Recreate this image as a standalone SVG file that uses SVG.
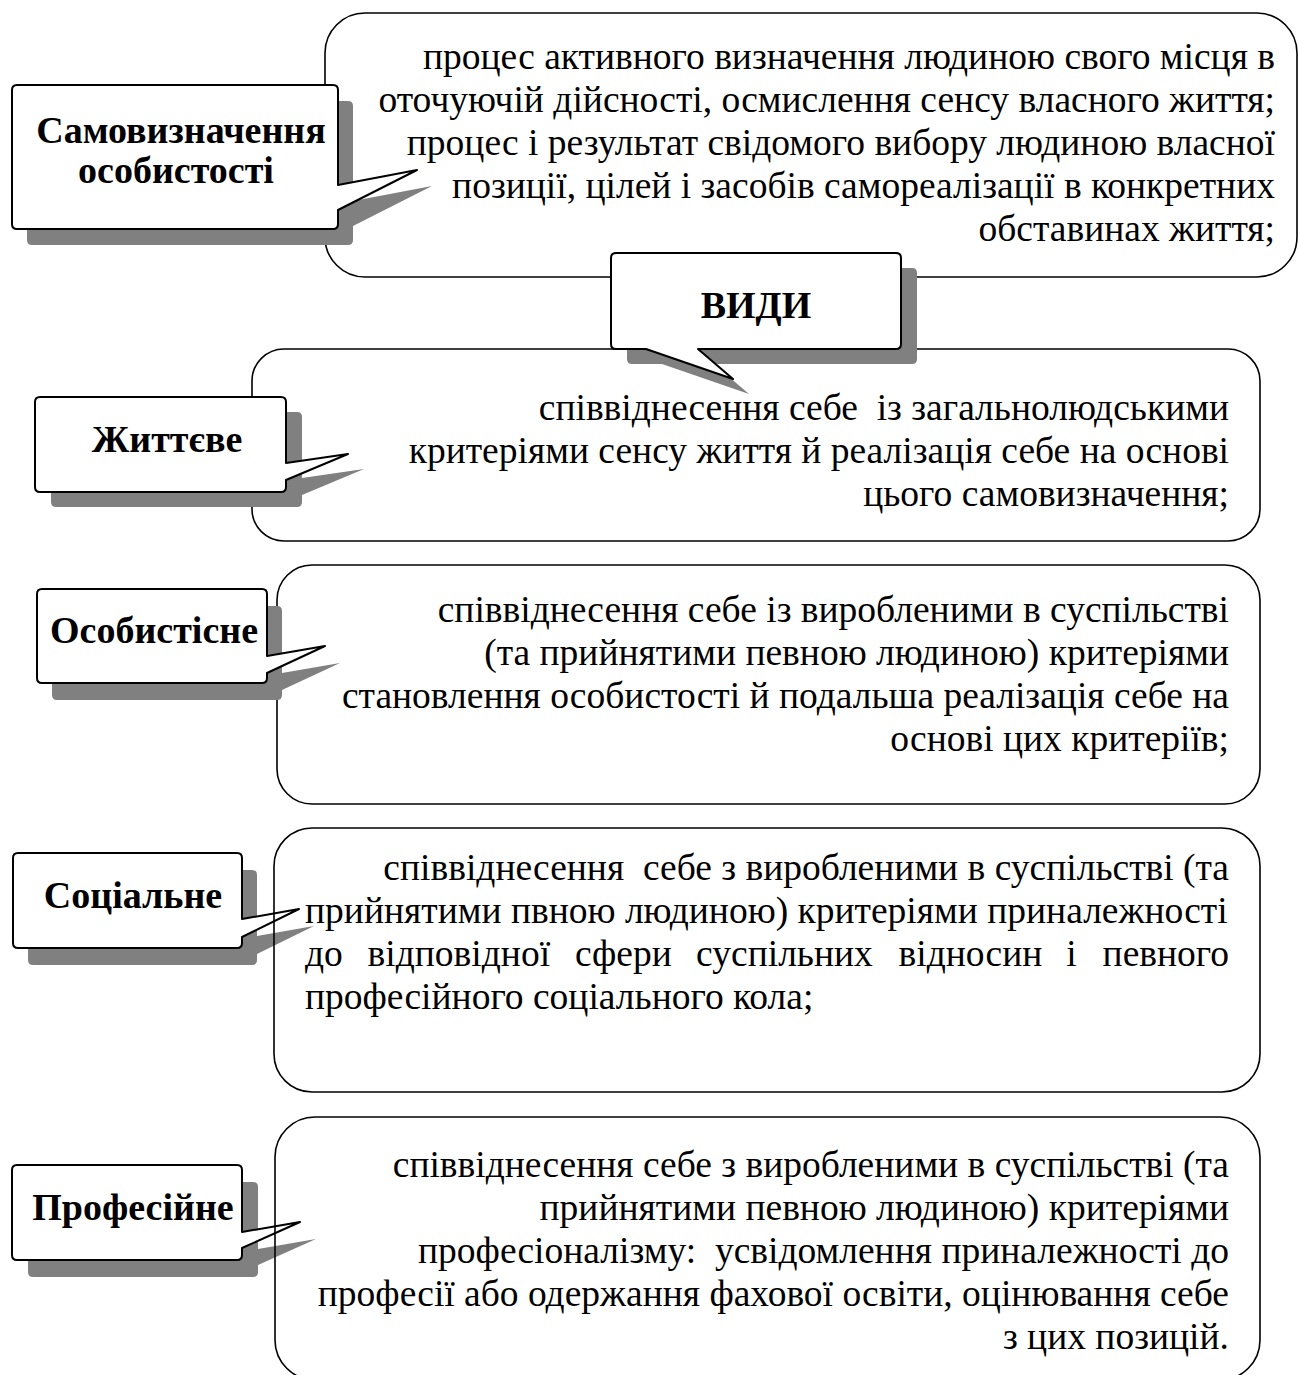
<svg xmlns="http://www.w3.org/2000/svg" width="1298" height="1375" viewBox="0 0 1298 1375">
<style>
.box{fill:none;stroke:#000;stroke-width:1.6}
.call{fill:#fff;stroke:#000;stroke-width:2;stroke-linejoin:round}
.shadow{fill:#808080;stroke:none}
.lbl{font-family:"Liberation Serif","Times New Roman",serif;font-weight:bold;font-size:38px;fill:#000;text-anchor:middle}
.txt{font-family:"Liberation Serif","Times New Roman",serif;font-size:37.5px;fill:#000;white-space:pre}
.r{text-anchor:end}
</style>
<rect width="1298" height="1375" fill="#fff"/>
<g id="connectors"/>

<g id="node-definition">
<rect class="box" x="325" y="13" width="972" height="264" rx="40"/>
<text class="txt r" xml:space="preserve"><tspan x="1275" y="69">процес активного визначення людиною свого місця в</tspan><tspan x="1275" y="112">оточуючій дійсності, осмислення сенсу власного життя;</tspan><tspan x="1275" y="155">процес і результат свідомого вибору людиною власної</tspan><tspan x="1275" y="198">позиції, цілей і засобів самореалізації в конкретних</tspan><tspan x="1275" y="241">обставинах життя;</tspan></text>
</g>
<g id="node-samovyznachennia">
<path class="shadow" transform="translate(15,16)" d="M17,85 H333 Q338,85 338,90 V185 L417,170 L338,210 V224 Q338,229 333,229 H17 Q12,229 12,224 V90 Q12,85 17,85 Z"/>
<path class="call" d="M17,85 H333 Q338,85 338,90 V185 L417,170 L338,210 V224 Q338,229 333,229 H17 Q12,229 12,224 V90 Q12,85 17,85 Z"/>
<text class="lbl"><tspan x="181" y="143">Самовизначення</tspan><tspan x="176" y="183">особистості</tspan></text>
</g>

<g id="node-zhyttieve-text">
<rect class="box" x="252" y="349" width="1008" height="192" rx="32"/>
<text class="txt r" xml:space="preserve"><tspan x="1229" y="420">співвіднесення себе  із загальнолюдськими</tspan><tspan x="1229" y="463">критеріями сенсу життя й реалізація себе на основі</tspan><tspan x="1229" y="506">цього самовизначення;</tspan></text>
</g>
<g id="node-zhyttieve">
<path class="shadow" transform="translate(16,15)" d="M40,397 H281 Q286,397 286,402 V463 L348,454 L286,480 V487 Q286,492 281,492 H40 Q35,492 35,487 V402 Q35,397 40,397 Z"/>
<path class="call" d="M40,397 H281 Q286,397 286,402 V463 L348,454 L286,480 V487 Q286,492 281,492 H40 Q35,492 35,487 V402 Q35,397 40,397 Z"/>
<text class="lbl" x="167" y="452">Життєве</text>
</g>

<g id="node-osobystisne-text">
<rect class="box" x="277" y="565" width="983" height="239" rx="35"/>
<text class="txt r" xml:space="preserve"><tspan x="1229" y="622">співвіднесення себе із виробленими в суспільстві</tspan><tspan x="1229" y="665">(та прийнятими певною людиною) критеріями</tspan><tspan x="1229" y="708">становлення особистості й подальша реалізація себе на</tspan><tspan x="1229" y="751">основі цих критеріїв;</tspan></text>
</g>
<g id="node-osobystisne">
<path class="shadow" transform="translate(15,17)" d="M42,589 H262 Q267,589 267,594 V656 L325,646 L267,673 V678 Q267,683 262,683 H42 Q37,683 37,678 V594 Q37,589 42,589 Z"/>
<path class="call" d="M42,589 H262 Q267,589 267,594 V656 L325,646 L267,673 V678 Q267,683 262,683 H42 Q37,683 37,678 V594 Q37,589 42,589 Z"/>
<text class="lbl" x="154" y="643">Особистісне</text>
</g>

<g id="node-sotsialne">
<path class="shadow" transform="translate(15,17)" d="M18,853 H237 Q242,853 242,858 V919 L299,909 L242,937 V943 Q242,948 237,948 H18 Q13,948 13,943 V858 Q13,853 18,853 Z"/>
<path class="call" d="M18,853 H237 Q242,853 242,858 V919 L299,909 L242,937 V943 Q242,948 237,948 H18 Q13,948 13,943 V858 Q13,853 18,853 Z"/>
<text class="lbl" x="133" y="908">Соціальне</text>
</g>
<g id="node-sotsialne-text">
<rect class="box" x="274" y="828" width="986" height="264" rx="38"/>
<text class="txt" xml:space="preserve"><tspan x="1229" y="880" text-anchor="end">співвіднесення  себе з виробленими в суспільстві (та</tspan><tspan x="305" y="923">прийнятими пвною людиною) критеріями приналежності</tspan><tspan x="305" y="966">до</tspan><tspan x="367.6" y="966">відповідної</tspan><tspan x="574.9" y="966">сфери</tspan><tspan x="696.1" y="966">суспільних</tspan><tspan x="898.6" y="966">відносин</tspan><tspan x="1066.2" y="966">і</tspan><tspan x="1229" y="966" text-anchor="end">певного</tspan><tspan x="305" y="1009">професійного соціального кола;</tspan></text>
</g>

<g id="node-profesiine">
<path class="shadow" transform="translate(16,17)" d="M17,1165 H237 Q242,1165 242,1170 V1232 L300,1222 L242,1248 V1255 Q242,1260 237,1260 H17 Q12,1260 12,1255 V1170 Q12,1165 17,1165 Z"/>
<path class="call" d="M17,1165 H237 Q242,1165 242,1170 V1232 L300,1222 L242,1248 V1255 Q242,1260 237,1260 H17 Q12,1260 12,1255 V1170 Q12,1165 17,1165 Z"/>
<text class="lbl" x="133" y="1220">Професійне</text>
</g>
<g id="node-profesiine-text">
<rect class="box" x="275" y="1117" width="985" height="263" rx="40"/>
<text class="txt r" xml:space="preserve"><tspan x="1229" y="1177">співвіднесення себе з виробленими в суспільстві (та</tspan><tspan x="1229" y="1220">прийнятими певною людиною) критеріями</tspan><tspan x="1229" y="1263">професіоналізму:  усвідомлення приналежності до</tspan><tspan x="1229" y="1306">професії або одержання фахової освіти, оцінювання себе</tspan><tspan x="1229" y="1349">з цих позицій.</tspan></text>
</g>

<g id="node-vydy">
<path class="shadow" transform="translate(16,15)" d="M616,253 H896 Q901,253 901,258 V344 Q901,349 896,349 H698 L733,379 L646,349 H616 Q611,349 611,344 V258 Q611,253 616,253 Z"/>
<path class="call" d="M616,253 H896 Q901,253 901,258 V344 Q901,349 896,349 H698 L733,379 L646,349 H616 Q611,349 611,344 V258 Q611,253 616,253 Z"/>
<text class="lbl" x="756" y="318">ВИДИ</text>
</g>
</svg>
